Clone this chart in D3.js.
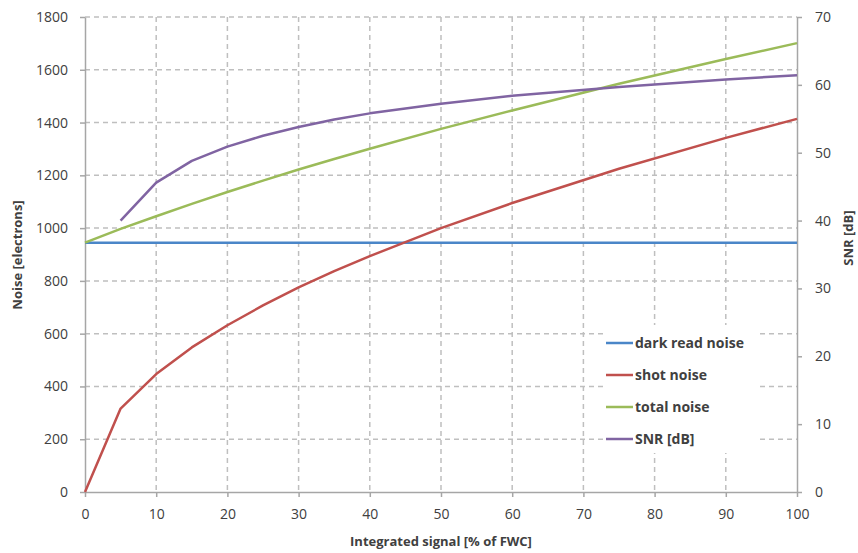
<!DOCTYPE html>
<html><head><meta charset="utf-8">
<script src="https://cdn.jsdelivr.net/npm/d3@7"></script>
<style>body{margin:0;background:#fff;} svg{display:block;}</style>
</head><body><svg id="c" width="858" height="553"></svg>
<script>
const signalPct = [0,5,10,15,20,25,30,35,40,50,60,75,90,100];
const darkReadNoise = [945,945,945,945,945,945,945,945,945,945,945,945,945,945];
const shotNoise = [0,316,447,548,632,707,775,837,894,1000,1095,1225,1342,1414];
const totalNoise = [945,997,1045,1092,1137,1180,1222,1262,1301,1376,1446,1547,1641,1701];
const snrDb = [null,40.0,45.6,48.8,50.9,52.5,53.8,54.9,55.8,57.2,58.4,59.7,60.8,61.4];
const xTicks = [0,10,20,30,40,50,60,70,80,90,100];
const yTicks = [0,200,400,600,800,1000,1200,1400,1600,1800];
const y2Ticks = [0,10,20,30,40,50,60,70];
const seriesNames = ["dark read noise","shot noise","total noise","SNR [dB]"];
const seriesColors = ["#4a86c8","#c0504d","#9bbb59","#8064a2"];

const svg = d3.select("#c");
const L=85,R=797,T=17,B=492;
const x = d3.scaleLinear().domain([0,100]).range([L,R]);
const y = d3.scaleLinear().domain([0,1800]).range([B,T]);
const y2 = d3.scaleLinear().domain([0,70]).range([B,T]);
const font = "'Open Sans', Lato, sans-serif";
const txt = "#404040", axisCol="#a6a6a6", gridCol="#bfbfbf";

// grid
svg.append("g").selectAll("line").data(yTicks.slice(1)).join("line")
  .attr("x1",L).attr("x2",R).attr("y1",d=>y(d)).attr("y2",d=>y(d))
  .attr("stroke",gridCol).attr("stroke-width",1.5).attr("stroke-dasharray","5,4");
svg.append("g").selectAll("line").data(xTicks.slice(1,-1)).join("line")
  .attr("y1",T).attr("y2",B).attr("x1",d=>x(d)).attr("x2",d=>x(d))
  .attr("stroke",gridCol).attr("stroke-width",1.5).attr("stroke-dasharray","5,4");

// axes
function styleAxis(g){
  g.select(".domain").attr("stroke",axisCol).attr("stroke-width",1.5);
  g.selectAll(".tick line").attr("stroke",axisCol).attr("stroke-width",1.5);
  g.selectAll(".tick text").attr("fill",txt).style("font-family",font).style("font-size","14px");
}
const fmt = d3.format("d");
svg.append("g").attr("transform",`translate(${L},0)`)
  .call(d3.axisLeft(y).tickValues(yTicks).tickFormat(fmt).tickSize(5).tickSizeOuter(0).tickPadding(12)).call(styleAxis);
svg.append("g").attr("transform",`translate(${R},0)`)
  .call(d3.axisRight(y2).tickValues(y2Ticks).tickFormat(fmt).tickSize(5).tickSizeOuter(0).tickPadding(13)).call(styleAxis);
svg.append("g").attr("transform",`translate(0,${B})`)
  .call(d3.axisBottom(x).tickValues(xTicks).tickFormat(fmt).tickSize(5).tickSizeOuter(0).tickPadding(12)).call(styleAxis);

// lines
const pts = vals => signalPct.map((s,i)=>[s,vals[i]]).filter(p=>p[1]!==null);
const line = d3.line().x(d=>x(d[0])).y(d=>y(d[1]));
const line2 = d3.line().x(d=>x(d[0])).y(d=>y2(d[1]));
const g = svg.append("g").attr("fill","none").attr("stroke-width",2.5).attr("stroke-linejoin","round");
g.append("path").attr("d",line(pts(darkReadNoise))).attr("stroke",seriesColors[0]);
g.append("path").attr("d",line(pts(shotNoise))).attr("stroke",seriesColors[1]);
g.append("path").attr("d",line(pts(totalNoise))).attr("stroke",seriesColors[2]);
g.append("path").attr("d",line2(pts(snrDb))).attr("stroke",seriesColors[3]);

// legend
const lg = svg.append("g");
lg.append("rect").attr("x",603).attr("y",325).attr("width",154).attr("height",128).attr("fill","#fff");
seriesNames.forEach((n,i)=>{
  const yy = 343 + i*32;
  lg.append("line").attr("x1",606).attr("x2",633).attr("y1",yy).attr("y2",yy)
    .attr("stroke",seriesColors[i]).attr("stroke-width",2.5);
  lg.append("text").attr("x",635).attr("y",yy).attr("dy","0.35em").text(n)
    .attr("fill",txt).style("font-family",font).style("font-size","14px").style("font-weight","bold");
});

// titles
svg.append("text").attr("x",(L+R)/2).attr("y",546).attr("text-anchor","middle").text("Integrated signal [% of FWC]")
  .attr("fill",txt).style("font-family",font).style("font-size","13px").style("font-weight","bold");
svg.append("text").attr("transform","translate(22,255) rotate(-90)").attr("text-anchor","middle").text("Noise [electrons]")
  .attr("fill",txt).style("font-family",font).style("font-size","13px").style("font-weight","bold");
svg.append("text").attr("transform","translate(853,238) rotate(-90)").attr("text-anchor","middle").text("SNR [dB]")
  .attr("fill",txt).style("font-family",font).style("font-size","13px").style("font-weight","bold");
</script></body></html>
